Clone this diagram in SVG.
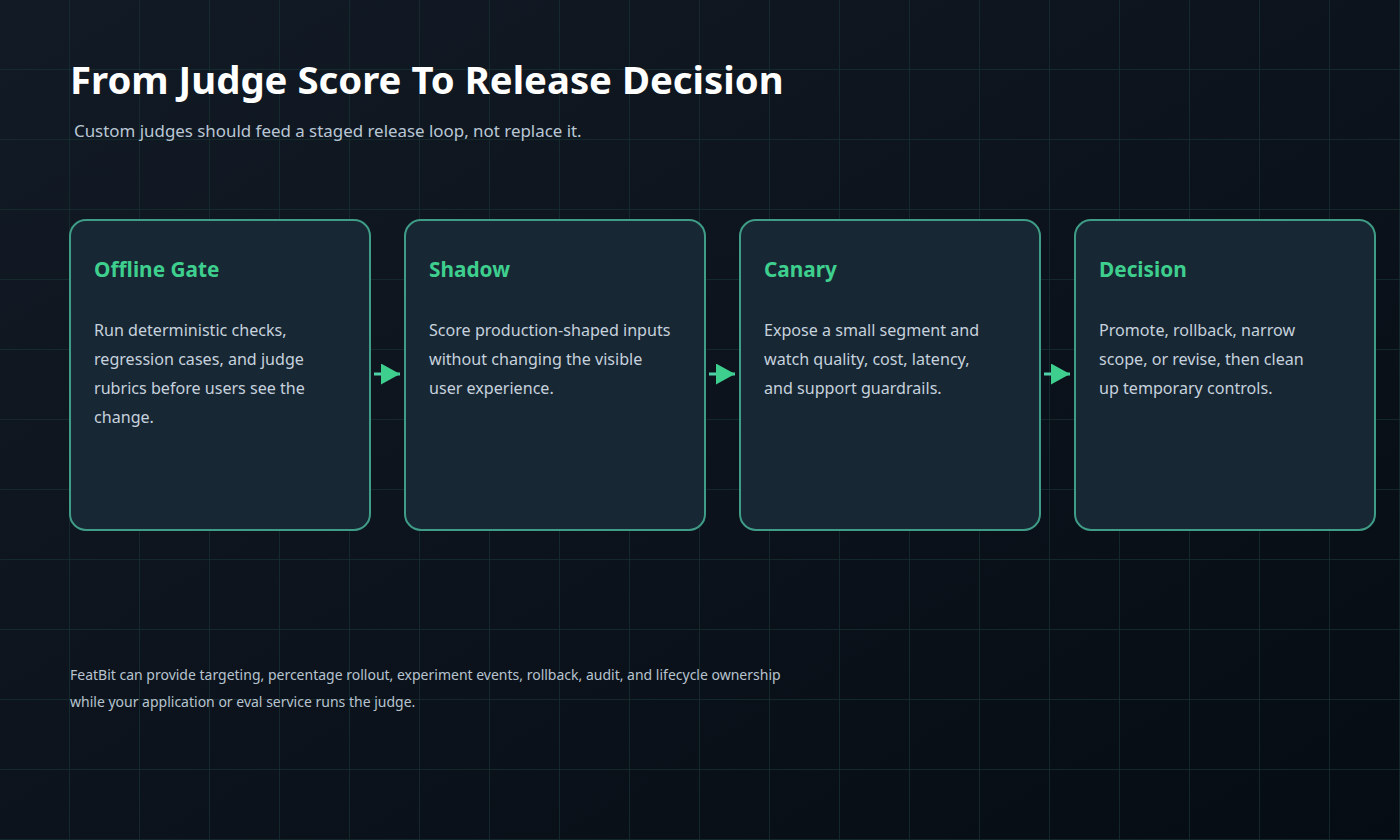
<svg xmlns="http://www.w3.org/2000/svg" width="1400" height="840" viewBox="0 0 1400 840">
<defs>
<linearGradient id="bg" x1="0" y1="0" x2="1" y2="1">
<stop offset="0" stop-color="#121a25"/>
<stop offset="1" stop-color="#060c13"/>
</linearGradient>
<pattern id="grid" x="0" y="0" width="70" height="70" patternUnits="userSpaceOnUse">
<path d="M70 0V70M0 70H70" fill="none" stroke="#16302f" stroke-width="1.5"/>
</pattern>
<marker id="ah" viewBox="0 0 19 21" refX="19" refY="10.5" markerWidth="19" markerHeight="21" markerUnits="userSpaceOnUse" orient="auto">
<path d="M0 0L19 10.5L0 21Z" fill="#3ecf8e"/>
</marker>
<style>
.card{fill:#182734;stroke:#3f9c86;stroke-width:2}
.ct{font-family:"Noto Sans","Open Sans",sans-serif;font-size:20.8px;font-weight:700;fill:#3ecf8e}
.cb{font-family:"Noto Sans","Open Sans",sans-serif;font-size:16.1px;fill:#c6d2dd}
.conn{stroke:#4fd1a8;stroke-width:3;fill:none}
</style>
</defs>
<rect width="1400" height="840" fill="url(#bg)"/>
<rect width="1400" height="840" fill="url(#grid)"/>
<text x="70" y="94" font-family="'Noto Sans','Open Sans',sans-serif" font-size="38.3" font-weight="700" fill="#ffffff">From Judge Score To Release Decision</text>
<text x="74" y="137" font-family="'Noto Sans','Open Sans',sans-serif" font-size="16.9" fill="#b9c7d5">Custom judges should feed a staged release loop, not replace it.</text>
<g id="offline-gate">
<rect class="card" x="70" y="220" width="300" height="310" rx="16"/>
<text class="ct" x="94" y="277">Offline Gate</text>
<text class="cb" x="94" y="336">Run deterministic checks,</text>
<text class="cb" x="94" y="365">regression cases, and judge</text>
<text class="cb" x="94" y="394">rubrics before users see the</text>
<text class="cb" x="94" y="423">change.</text>
</g>
<g id="shadow">
<rect class="card" x="405" y="220" width="300" height="310" rx="16"/>
<text class="ct" x="429" y="277">Shadow</text>
<text class="cb" x="429" y="336">Score production-shaped inputs</text>
<text class="cb" x="429" y="365">without changing the visible</text>
<text class="cb" x="429" y="394">user experience.</text>
</g>
<g id="canary">
<rect class="card" x="740" y="220" width="300" height="310" rx="16"/>
<text class="ct" x="764" y="277">Canary</text>
<text class="cb" x="764" y="336">Expose a small segment and</text>
<text class="cb" x="764" y="365">watch quality, cost, latency,</text>
<text class="cb" x="764" y="394">and support guardrails.</text>
</g>
<g id="decision">
<rect class="card" x="1075" y="220" width="300" height="310" rx="16"/>
<text class="ct" x="1099" y="277">Decision</text>
<text class="cb" x="1099" y="336">Promote, rollback, narrow</text>
<text class="cb" x="1099" y="365">scope, or revise, then clean</text>
<text class="cb" x="1099" y="394">up temporary controls.</text>
</g>
<g id="connectors">
<line class="conn" x1="374" y1="374" x2="400" y2="374" marker-end="url(#ah)"/>
<line class="conn" x1="709" y1="374" x2="735" y2="374" marker-end="url(#ah)"/>
<line class="conn" x1="1044" y1="374" x2="1070" y2="374" marker-end="url(#ah)"/>
</g>
<text x="70" y="680" font-family="'Noto Sans','Open Sans',sans-serif" font-size="14" fill="#b7c3cf">FeatBit can provide targeting, percentage rollout, experiment events, rollback, audit, and lifecycle ownership</text>
<text x="70" y="707" font-family="'Noto Sans','Open Sans',sans-serif" font-size="14" fill="#b7c3cf">while your application or eval service runs the judge.</text>
</svg>
